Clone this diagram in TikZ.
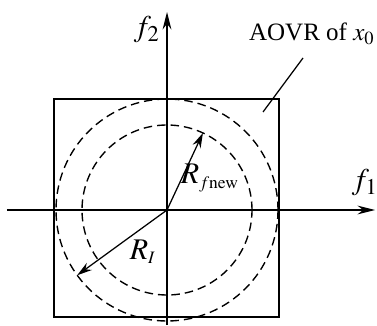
\documentclass[tikz,border=0pt]{standalone}
\usepackage{mathptmx}
\usepackage{fontspec}
\setmainfont{Liberation Serif}
\usetikzlibrary{arrows.meta}

\tikzset{
    axis/.style={-{Stealth[length=7pt,width=3.5pt]}, line width=0.5pt},
    radius arrow/.style={-{Stealth[length=6pt,width=3.5pt]}, line width=0.5pt},
    region/.style={dashed, dash pattern=on 3.4pt off 2pt, line width=0.55pt}
}

\begin{document}
\begin{tikzpicture}[x=0.4pt, y=0.4pt]
        \useasboundingbox (-167, -115) rectangle (210, 210);

        \coordinate (O) at (0, 0);
        \coordinate (xmin) at (-160, 0);
        \coordinate (xmax) at (208, 0);
        \coordinate (ymin) at (0, -115);
        \coordinate (ymax) at (0, 198);

        \draw[axis] (xmin) -- (xmax);
        \draw[axis] (ymin) -- (ymax);
        \node[font=\large] (f1) at (198, 27) {$f_1$};
        \node[font=\large] (f2) at (-20, 180) {$f_2$};

        \draw[line width=0.5pt] (-113, -107) rectangle (112, 111);

        \draw[region] (O) circle (111);
        \draw[region] (O) circle (85);

        \coordinate (Pnew) at (65:85);
        \coordinate (PI) at (216:111);
        \draw[radius arrow] (O) -- (Pnew);
        \draw[radius arrow] (O) -- (PI);
        \node[font=\large] (Rnew) at (43, 32) {$R_{\scriptscriptstyle f\mathrm{new}}$};
        \node[font=\large] (RI) at (-24, -42) {$R_{\scriptscriptstyle I}$};

        \node (aovr) at (145, 176) {AOVR of $x_0$};
        \coordinate (aovrtop) at (136, 152);
        \coordinate (aovrend) at (96, 98);
        \draw[line width=0.5pt] (aovrtop) -- (aovrend);
    \end{tikzpicture}
\end{document}
